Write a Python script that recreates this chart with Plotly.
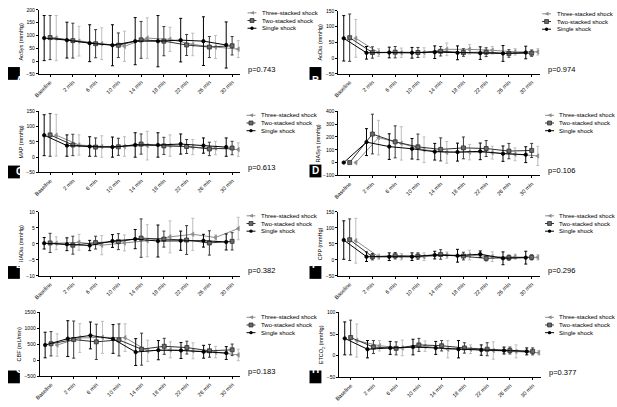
import numpy as np
import plotly.graph_objects as go

W, H = 617, 407

tick_labels = ["Baseline", "2 min", "6 min", "10 min", "14 min", "18 min", "22 min", "26 min", "30 min"]
series_names = ["Three-stacked shock", "Two-stacked shock", "Single shock"]

# ---------------- data (mean, SD) ----------------
# A  AoSys
aosys_single_mean = [90, 82, 70, 62, 78, 78, 82, 78, 63]
aosys_single_sd = [88, 70, 72, 80, 92, 100, 85, 95, 90]
aosys_two_mean = [92, 80, 68, 62, 83, 78, 63, 55, 60]
aosys_two_sd = [86, 68, 55, 48, 72, 57, 41, 41, 36]
aosys_three_mean = [90, 78, 68, 58, 90, 85, 65, 55, 47]
aosys_three_sd = [88, 58, 62, 59, 79, 47, 44, 45, 33]
# B  AoDia
aodia_single_mean = [63, 17, 18, 17, 19, 17, 16, 15, 18]
aodia_single_sd = [72, 20, 17, 17, 20, 22, 20, 25, 20]
aodia_two_mean = [65, 18, 19, 18, 22, 18, 19, 15, 16]
aodia_two_sd = [75, 18, 18, 16, 15, 12, 14, 12, 10]
aodia_three_mean = [63, 18, 17, 18, 28, 28, 25, 20, 20]
aodia_three_sd = [60, 12, 15, 15, 20, 15, 12, 10, 10]
# C  MAP
map_single_mean = [72, 38, 35, 33, 40, 40, 43, 38, 33]
map_single_sd = [67, 35, 32, 33, 40, 40, 33, 25, 30]
map_two_mean = [73, 40, 33, 34, 43, 37, 35, 27, 30]
map_two_sd = [70, 35, 30, 28, 33, 28, 23, 22, 22]
map_three_mean = [72, 40, 35, 35, 38, 38, 33, 30, 25]
map_three_sd = [68, 33, 35, 32, 47, 35, 25, 22, 22]
# D  RASys
rasys_single_mean = [0, 160, 125, 108, 85, 82, 88, 70, 62]
rasys_single_sd = [0, 105, 100, 80, 65, 70, 65, 60, 62]
rasys_two_mean = [0, 223, 162, 123, 103, 115, 110, 90, 95]
rasys_two_sd = [0, 155, 125, 100, 90, 85, 62, 60, 55]
rasys_three_mean = [0, 195, 150, 100, 80, 82, 78, 65, 52]
rasys_three_sd = [0, 135, 130, 100, 85, 60, 50, 50, 75]
# E  RADia
radia_single_mean = [0.2, -0.1, -0.5, 0.9, 1.5, 0.9, 1.0, 1.0, 0.6]
radia_single_sd = [1.8, 2.0, 1.6, 2.0, 3.0, 5.0, 3.0, 2.0, 2.5]
radia_two_mean = [0.3, -0.4, 0.4, 0.7, 1.8, 1.5, 1.2, 0.3, 0.8]
radia_two_sd = [3.0, 2.8, 2.0, 2.5, 6.0, 2.5, 4.5, 3.8, 2.7]
radia_three_mean = [0.2, 0.5, -0.4, 0.3, 1.0, 2.2, 3.0, 2.0, 4.8]
radia_three_sd = [2.0, 2.5, 3.0, 2.5, 5.0, 5.0, 5.0, 0.8, 3.5]
# F  CPP
cpp_single_mean = [62, 10, 10, 10, 15, 13, 18, 5, 7]
cpp_single_sd = [60, 15, 12, 12, 12, 20, 10, 20, 20]
cpp_two_mean = [63, 10, 13, 12, 17, 12, 5, 7, 8]
cpp_two_sd = [65, 10, 10, 10, 15, 12, 8, 8, 8]
cpp_three_mean = [60, 10, 10, 10, 15, 15, 10, 10, 8]
cpp_three_sd = [70, 8, 10, 12, 10, 15, 15, 8, 8]
# G  CBF
cbf_single_mean = [480, 680, 780, 670, 260, 320, 310, 270, 230]
cbf_single_sd = [400, 560, 420, 450, 420, 300, 250, 200, 200]
cbf_two_mean = [520, 650, 580, 640, 350, 440, 400, 300, 330]
cbf_two_sd = [380, 580, 550, 500, 500, 250, 200, 200, 180]
cbf_three_mean = [480, 700, 720, 710, 300, 330, 300, 260, 170]
cbf_three_sd = [350, 450, 500, 430, 330, 250, 250, 180, 180]
# H  ETCO2
etco2_single_mean = [40, 15, 18, 20, 18, 15, 13, 12, 10]
etco2_single_sd = [38, 20, 15, 18, 15, 20, 12, 8, 8]
etco2_two_mean = [42, 20, 17, 25, 23, 18, 15, 12, 10]
etco2_two_sd = [40, 15, 15, 15, 12, 12, 15, 8, 8]
etco2_three_mean = [35, 23, 18, 22, 15, 15, 12, 10, 7]
etco2_three_sd = [38, 12, 18, 12, 20, 10, 20, 15, 5]

y_titles = ["AoSys (mmHg)", "AoDia (mmHg)", "MAP (mmHg)", "RASys (mmHg)",
            "RADia (mmHg)", "CPP (mmHg)", "CBF (mL/min)", "ETCO<sub>2</sub> (mmHg)"]
p_values = ["p=0.743", "p=0.974", "p=0.613", "p=0.106", "p=0.382", "p=0.296", "p=0.183", "p=0.377"]
panel_letters = ["A", "B", "C", "D", "E", "F", "G", "H"]
y_ticks = [[-50, 0, 50, 100, 150, 200], [-50, 0, 50, 100, 150], [-50, 0, 50, 100, 150],
           [-100, 0, 100, 200, 300, 400], [-10, -5, 0, 5, 10], [-50, 0, 50, 100, 150],
           [-500, 0, 500, 1000, 1500], [-50, 0, 50, 100]]

panels_data = [
    (aosys_three_mean, aosys_three_sd, aosys_two_mean, aosys_two_sd, aosys_single_mean, aosys_single_sd),
    (aodia_three_mean, aodia_three_sd, aodia_two_mean, aodia_two_sd, aodia_single_mean, aodia_single_sd),
    (map_three_mean, map_three_sd, map_two_mean, map_two_sd, map_single_mean, map_single_sd),
    (rasys_three_mean, rasys_three_sd, rasys_two_mean, rasys_two_sd, rasys_single_mean, rasys_single_sd),
    (radia_three_mean, radia_three_sd, radia_two_mean, radia_two_sd, radia_single_mean, radia_single_sd),
    (cpp_three_mean, cpp_three_sd, cpp_two_mean, cpp_two_sd, cpp_single_mean, cpp_single_sd),
    (cbf_three_mean, cbf_three_sd, cbf_two_mean, cbf_two_sd, cbf_single_mean, cbf_single_sd),
    (etco2_three_mean, etco2_three_sd, etco2_two_mean, etco2_two_sd, etco2_single_mean, etco2_single_sd),
]

# ---------------- layout geometry (pixels) ----------------
# (x0, x1, y_top, y_bottom)
boxes = [
    (34, 237, 7, 72), (336, 539, 8, 72),
    (34, 237, 110, 172), (336, 539, 110, 175),
    (34, 237, 212, 277), (336, 539, 212, 277),
    (35, 237, 314, 379), (337, 540, 314, 380),
]
legend_pos = [(257, 10), (554, 11), (256, 114), (557, 114),
              (256, 216), (557, 216), (256, 319), (557, 319)]
label_boxes = [(3, 65), (307, 65), (3, 165), (307, 164), (3, 267), (307, 267), (3, 373), (307, 373)]

FONT = "Liberation Sans, Arial, sans-serif"


def fx(p):
    return p / W


def fy(p):
    return 1 - p / H


styles = [
    dict(line="#8c8c8c", err="#bdbdbd", symbol="triangle-left", size=4, mcolor="#8c8c8c", mline="#8c8c8c", off=0.27),
    dict(line="#333333", err="#3a3a3a", symbol="square", size=4, mcolor="#6a6a6a", mline="#222222", off=0.0),
    dict(line="#000000", err="#000000", symbol="circle", size=3.5, mcolor="#000000", mline="#000000", off=-0.26),
]

fig = go.Figure()
idx = np.arange(len(tick_labels))
shapes = []
annotations = []

for i in range(8):
    n = "" if i == 0 else str(i + 1)
    d = panels_data[i]
    for s in range(3):
        st = styles[s]
        mean = d[2 * s]
        sd = d[2 * s + 1]
        fig.add_trace(go.Scatter(
            x=idx + st["off"], y=mean, name=series_names[s],
            mode="lines+markers",
            line=dict(color=st["line"], width=1),
            marker=dict(symbol=st["symbol"], size=st["size"], color=st["mcolor"],
                        line=dict(color=st["mline"], width=0.7)),
            error_y=dict(type="data", array=sd, visible=True, color=st["err"], thickness=1, width=1.5),
            xaxis="x" + n, yaxis="y" + n, showlegend=False, hoverinfo="skip",
        ))
    x0, x1, yt, yb = boxes[i]
    yt_ = y_ticks[i]
    fig.update_layout(**{
        "xaxis" + n: dict(domain=[fx(x0), fx(x1)], range=[-0.5, 8.35], anchor="y" + n,
                          tickvals=list(idx), ticktext=tick_labels, tickangle=-45,
                          showline=True, linecolor="black", linewidth=1, ticks="outside",
                          ticklen=2, tickwidth=1, tickcolor="black", showgrid=False, zeroline=False,
                          tickfont=dict(size=5.5, family=FONT, color="black")),
        "yaxis" + n: dict(domain=[fy(yb), fy(yt)], range=[yt_[0], yt_[-1]], anchor="x" + n,
                          tickvals=yt_, showline=True, linecolor="black", linewidth=1,
                          ticks="outside", ticklen=2, tickwidth=1, tickcolor="black",
                          showgrid=False, zeroline=False,
                          tickfont=dict(size=5, family=FONT, color="black"),
                          title=dict(text=y_titles[i], font=dict(size=5.5, family=FONT, color="black"),
                                     standoff=2)),
    })
    # p-value
    annotations.append(dict(x=fx(x1 + 6), y=fy(yb - 5), xref="paper", yref="paper",
                            text=p_values[i], showarrow=False, xanchor="left", yanchor="middle",
                            font=dict(size=7.5, family=FONT, color="black")))
    # panel letter
    lx, ly = label_boxes[i]
    shapes.append(dict(type="rect", xref="paper", yref="paper", x0=fx(lx), x1=fx(lx + 12),
                       y0=fy(ly + 13), y1=fy(ly), fillcolor="black", line=dict(width=0)))
    annotations.append(dict(x=fx(lx + 6), y=fy(ly + 6.5), xref="paper", yref="paper",
                            text="<b>" + panel_letters[i] + "</b>", showarrow=False,
                            font=dict(size=10, family=FONT, color="white")))
    # custom legend
    tx, ty = legend_pos[i]
    for s in range(3):
        st = styles[s]
        ry = ty + 7.8 * s
        cx = tx - 8
        shapes.append(dict(type="line", xref="paper", yref="paper", x0=fx(cx - 4.5), x1=fx(cx + 4.5),
                           y0=fy(ry), y1=fy(ry), line=dict(color=st["line"], width=1)))
        if st["symbol"] == "circle":
            shapes.append(dict(type="circle", xref="paper", yref="paper", x0=fx(cx - 1.7), x1=fx(cx + 1.7),
                               y0=fy(ry + 1.7), y1=fy(ry - 1.7), fillcolor="black", line=dict(width=0)))
        elif st["symbol"] == "square":
            shapes.append(dict(type="rect", xref="paper", yref="paper", x0=fx(cx - 2), x1=fx(cx + 2),
                               y0=fy(ry + 2), y1=fy(ry - 2), fillcolor=st["mcolor"],
                               line=dict(color=st["mline"], width=0.7)))
        else:
            shapes.append(dict(type="path", xref="paper", yref="paper",
                               path=f"M {fx(cx - 2)} {fy(ry)} L {fx(cx + 2)} {fy(ry - 2)} L {fx(cx + 2)} {fy(ry + 2)} Z",
                               fillcolor=st["mcolor"], line=dict(width=0)))
        annotations.append(dict(x=fx(tx), y=fy(ry), xref="paper", yref="paper", text=series_names[s],
                                showarrow=False, xanchor="left", yanchor="middle",
                                font=dict(size=6, family=FONT, color="black")))

fig.update_layout(width=W, height=H, margin=dict(l=0, r=0, t=0, b=0),
                  paper_bgcolor="white", plot_bgcolor="white", hovermode=False,
                  shapes=shapes, annotations=annotations, showlegend=False)
fig.write_html("out.html", config={"displayModeBar": False, "staticPlot": True},
               post_script="document.body.style.margin='0';document.body.style.padding='0';"
                           "document.documentElement.style.overflow='hidden';")
